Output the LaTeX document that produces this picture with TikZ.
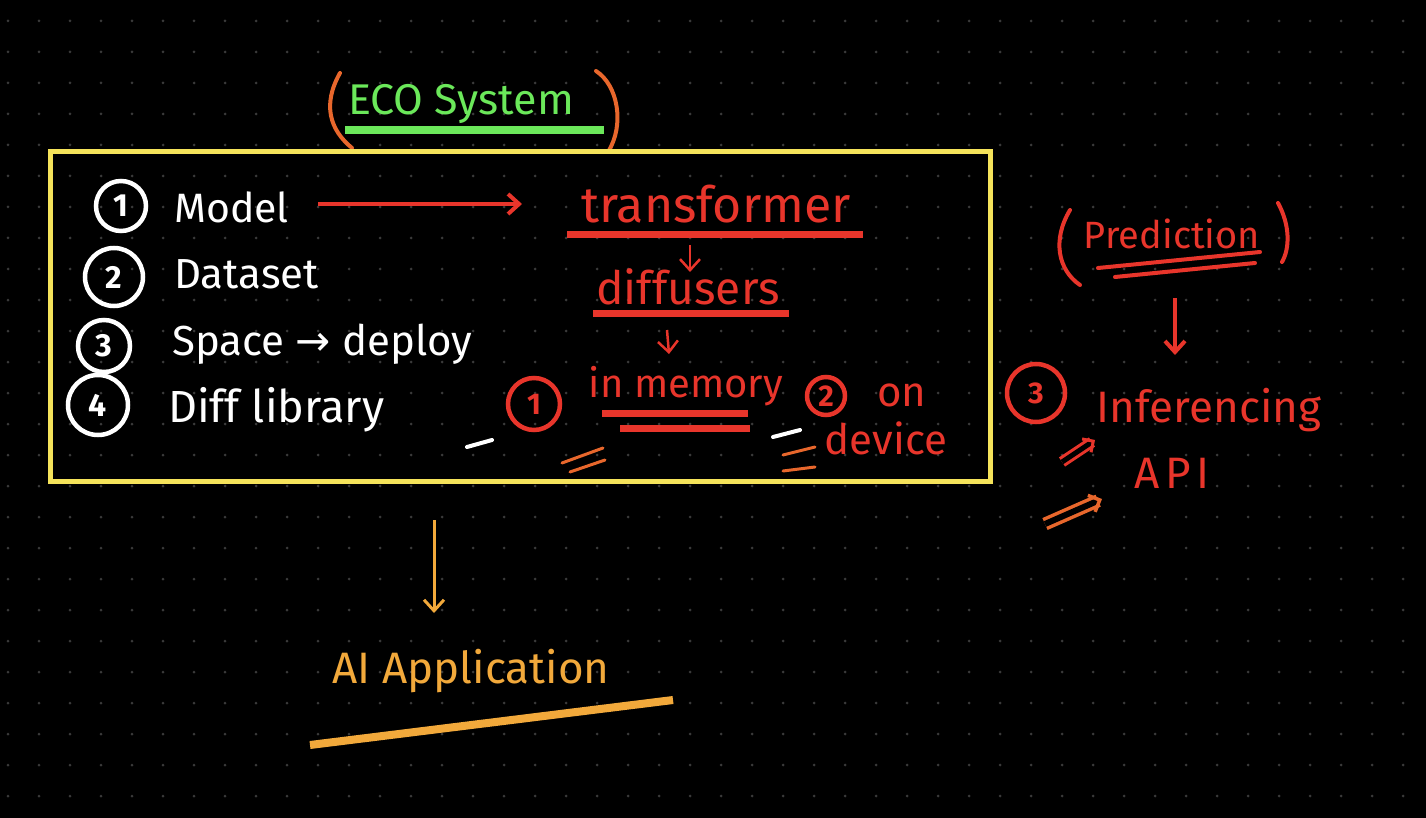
\documentclass[tikz,border=0pt]{standalone}
\usepackage{fontspec}
\setmainfont{Fira Sans}
\newfontfamily\dvfont{DejaVu Sans}
\usetikzlibrary{arrows.meta}
\definecolor{rd}{HTML}{E8352B}
\definecolor{org}{HTML}{E8672C}
\definecolor{amb}{HTML}{F2A93B}
\definecolor{ylw}{HTML}{F5E35A}
\definecolor{grn}{HTML}{6BE85A}
\definecolor{dotc}{HTML}{3A3A3A}
\tikzset{
  hand/.style={inner sep=0pt, font=\fontsize{#1}{#1}\selectfont},
  hand/.default=40,
  wtxt/.style={hand=#1, text=white, anchor=west},
  wtxt/.default=42,
  rtxt/.style={hand=#1, text=rd},
  rtxt/.default=40,
  num/.style={circle, draw=white, line width=4.5pt, text=white, inner sep=0pt, font=\fontsize{32}{34}\selectfont\bfseries},
  rnum/.style={circle, draw=rd, line width=4.5pt, text=rd, inner sep=0pt, font=\fontsize{30}{32}\selectfont\bfseries},
  redline/.style={draw=rd, line width=7pt},
  tip/.style={-{Straight Barb[length=11pt,width=20pt]}},
  stroke/.style={line width=4pt, line cap=round}
}
\begin{document}
\begin{tikzpicture}[x=1pt,y=-1pt]
\fill[black] (0,0) rectangle (1426,818);
\useasboundingbox (0,0) rectangle (1426,818);
\foreach \i in {0,...,45} \foreach \j in {0,...,25} \fill[dotc] (8+31*\i,21+31*\j) circle (1.5);

% title
\node[hand=43, text=grn] (eco) at (461,104) {ECO System};
\coordinate (ul1) at (345,130); \coordinate (ul2) at (604,130);
\draw[grn, line width=8pt] (ul1) -- (ul2);
\draw[org, line width=4pt, line cap=round] (340,73) .. controls (322,105) and (330,130) .. (352,148);
\draw[org, line width=4pt, line cap=round] (596,71) .. controls (618,85) and (625,125) .. (608,152);

% main box
\node[draw=ylw, line width=5pt, minimum width=940pt, minimum height=329pt, inner sep=0pt] (box) at (520,316.5) {};

% list
\node[num, minimum size=50pt] (n1) at (121,206) {1};
\node[num, minimum size=58pt] (n2) at (114,277) {2};
\node[num, minimum size=52pt] (n3) at (104,346) {3};
\node[num, minimum size=60pt] (n4) at (98,405) {4};
\node[wtxt=41] (model) at (174,207) {Model};
\node[wtxt] (dataset) at (174,274) {Dataset};
\node[wtxt] (space) at (172,344) {Space {\dvfont →} deploy};
\node[wtxt=45] (diff) at (168,410) {Diff library};

% model -> transformer
\node[rtxt=50] (trans) at (716,204) {transformer};
\coordinate (m1) at (318,204); \coordinate (m2) at (522,204);
\draw[rd, line width=4pt, tip] (m1) -- (m2);
\draw[redline] (567,235) -- (863,235);
\node[rtxt=46] (diffu) at (688,287) {diffusers};
\coordinate (t1) at (690,245); \coordinate (t2) at (690,272);
\draw[rd, line width=2.5pt, tip] (t1) -- (t2);
\draw[redline] (593,313) -- (789,313);
\node[rtxt=40] (inmem) at (686,386) {in memory};
\coordinate (d1) at (667,330); \coordinate (d2) at (669,354);
\draw[rd, line width=2.5pt, tip] (d1) -- (d2);
\draw[redline] (602,413) -- (748,413);
\draw[redline] (620,428) -- (750,428);
\node[rnum, minimum size=52pt] (r1) at (534,404) {1};
\node[rnum, minimum size=38pt] (r2) at (826,396) {2};
\node[rtxt=42] (on) at (902,395) {on};
\node[rtxt=42] (device) at (886,438) {device};

% small strokes
\draw[white, stroke] (467,447) -- (492,440);
\draw[white, stroke] (773,437) -- (800,430);
\draw[org, line width=3pt, line cap=round] (562,463) -- (603,448);
\draw[org, line width=3pt, line cap=round] (570,472) -- (605,460);
\draw[org, line width=3pt, line cap=round] (783,455) -- (815,447);
\draw[org, line width=3pt, line cap=round] (783,471) -- (815,467);

% right side
\node[rtxt=38] (pred) at (1172,234) {Prediction};
\draw[rd, line width=4pt, line cap=round] (1070,210) .. controls (1052,240) and (1058,270) .. (1080,285);
\draw[rd, line width=4pt, line cap=round] (1278,203) .. controls (1290,225) and (1290,248) .. (1282,262);
\draw[rd, line width=4pt, line cap=round] (1098,268) -- (1260,252);
\draw[rd, line width=4pt, line cap=round] (1115,277) -- (1255,263);
\node[rtxt=44] (infer) at (1209,410) {Inferencing};
\node[rtxt=44] (api) at (1172,473) {A\hspace{6pt}P\hspace{6pt}I};
\coordinate (p1) at (1175,298); \coordinate (p2) at (1175,355);
\draw[rd, line width=4pt, tip] (p1) -- (p2);
\node[rnum, minimum size=58pt] (r3) at (1036,393) {3};
\coordinate (da1) at (1062,462); \coordinate (da2) at (1095,440);
\draw[rd, line width=3pt, double=black, double distance=5pt, -{Straight Barb[length=8pt,width=16pt]}] (da1) -- (da2);
\coordinate (db1) at (1045,524); \coordinate (db2) at (1102,499);
\draw[org, line width=3.5pt, double=black, double distance=6pt, -{Straight Barb[length=9pt,width=18pt]}] (db1) -- (db2);

% AI application
\node[hand=44, text=amb] (aiapp) at (471,671) {AI Application};
\coordinate (b1) at (434,520); \coordinate (b2) at (434,613);
\draw[amb, line width=3pt, tip] (b1) -- (b2);
\draw[amb, line width=8pt] (310,745) -- (673,700);
\end{tikzpicture}
\end{document}
